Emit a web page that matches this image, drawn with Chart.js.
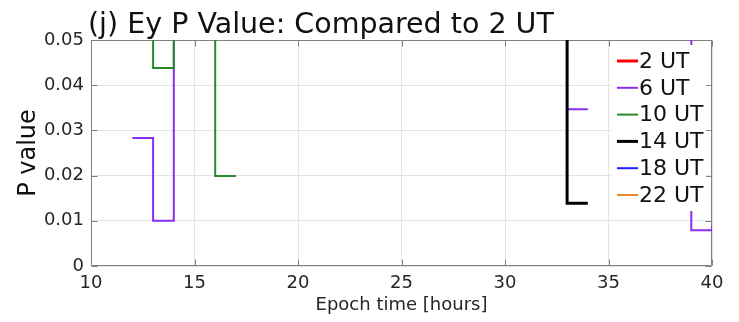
<!DOCTYPE html>
<html>
<head>
<meta charset="utf-8">
<script src="https://cdn.jsdelivr.net/npm/chart.js@4.4.1/dist/chart.umd.min.js"></script>
<style>
  html, body { margin: 0; padding: 0; background: #ffffff; }
  #wrap { width: 739px; height: 322px; }
</style>
</head>
<body>
<div id="wrap"><canvas id="c" width="739" height="322"></canvas></div>
<script>
// Epoch hours (one value per hour, stairs hold each value for one hour)
const epochHours = [10, 11, 12, 13, 14, 15, 16, 17, 18, 19, 20, 21, 22, 23, 24, 25,
                    26, 27, 28, 29, 30, 31, 32, 33, 34, 35, 36, 37, 38, 39, 40];

// P values of Ey for each start hour, compared to 2 UT (null = no value)
const pValues2UT  = [null, null, null, null, null, null, null, null, null, null, null, null, null, null, null, null,
                     null, null, null, null, null, null, null, null, null, null, null, null, null, null, null];
const pValues6UT  = [null, null, 0.0283, 0.0100, 0.21, null, null, null, null, null, null, null, null, null, null, null,
                     null, null, null, null, null, null, 0.17, 0.0347, null, null, null, null, 0.13, 0.0079, 0.0088];
const pValues10UT = [null, null, 0.15, 0.0438, 0.19, 0.11, 0.0199, null, null, null, null, null, null, null, null, null,
                     null, null, null, null, null, null, null, null, null, null, null, null, null, null, null];
const pValues14UT = [null, null, null, null, null, null, null, null, null, null, null, null, null, null, null, null,
                     null, null, null, null, null, null, 0.30, 0.0139, null, null, null, null, null, null, null];
const pValues18UT = [null, null, null, null, null, null, null, null, null, null, null, null, null, null, null, null,
                     null, null, null, null, null, null, null, null, null, null, null, null, null, null, null];
const pValues22UT = [null, null, null, null, null, null, null, null, null, null, null, null, null, null, null, null,
                     null, null, null, null, null, null, null, null, null, null, null, null, null, null, null];

const seriesLabels = ['2 UT', '6 UT', '10 UT', '14 UT', '18 UT', '22 UT'];
const xTickValues = [10, 15, 20, 25, 30, 35, 40];
const xTickLabels = ['10', '15', '20', '25', '30', '35', '40'];
const yTickValues = [0, 0.01, 0.02, 0.03, 0.04, 0.05];
const yTickLabels = ['0', '0.01', '0.02', '0.03', '0.04', '0.05'];

const seriesValues = [pValues2UT, pValues6UT, pValues10UT, pValues14UT, pValues18UT, pValues22UT];
const seriesColors = ['#ff0000', '#8a2cf2', '#2a8a2a', '#000000', '#1f1fff', '#e8892e'];
const seriesWidths = [3, 2, 2, 3, 2, 2];

// Expand hourly values into stair points: each value is held until the next hour,
// a missing value breaks the line.
function stairPoints(xs, ys) {
  const pts = [];
  for (let i = 0; i < xs.length; i++) {
    if (i > 0 && ys[i - 1] !== null) pts.push({ x: xs[i], y: ys[i - 1] });
    pts.push({ x: xs[i], y: ys[i] });
  }
  return pts;
}

const FONT = '"DejaVu Sans", "Liberation Sans", sans-serif';
const TEXT = '#262626';
const AXIS = '#808080';

// later series are drawn over earlier ones
const datasets = seriesLabels.map((lab, i) => ({
  label: lab,
  data: stairPoints(epochHours, seriesValues[i]),
  order: -i,
  borderColor: seriesColors[i],
  backgroundColor: seriesColors[i],
  borderWidth: seriesWidths[i],
  pointRadius: 0,
  pointHoverRadius: 0,
  tension: 0,
  spanGaps: false,
  fill: false,
  borderJoinStyle: 'miter',
  borderCapStyle: 'butt',
  clip: 0
}));

// Box around the plot with inward tick marks on all four sides
const boxPlugin = {
  id: 'axesBox',
  beforeDatasetsDraw(chart) {
    const { ctx, chartArea: a, scales } = chart;
    ctx.save();
    ctx.strokeStyle = AXIS;
    ctx.lineWidth = 1;
    const L = Math.round(a.left) + 0.5, R = Math.round(a.right) - 0.5;
    const T = Math.round(a.top) + 0.5, B = Math.round(a.bottom) - 0.5;
    ctx.beginPath();
    ctx.rect(L, T, R - L, B - T);
    const tl = 6;
    xTickValues.forEach(v => {
      const px = Math.round(scales.x.getPixelForValue(v)) + 0.5;
      ctx.moveTo(px, B); ctx.lineTo(px, B - tl);
      ctx.moveTo(px, T); ctx.lineTo(px, T + tl);
    });
    yTickValues.forEach(v => {
      const py = Math.round(scales.y.getPixelForValue(v)) + 0.5;
      ctx.moveTo(L, py); ctx.lineTo(L + tl, py);
      ctx.moveTo(R, py); ctx.lineTo(R - tl, py);
    });
    ctx.stroke();
    ctx.restore();
  }
};

// Legend drawn inside the plot, top right, on a white box
const legendPlugin = {
  id: 'insideLegend',
  afterDatasetsDraw(chart) {
    const { ctx, chartArea: a } = chart;
    const x0 = a.right - 100, y0 = a.top + 5, w = 94, h = 166, rowH = 26.8;
    ctx.save();
    ctx.fillStyle = '#ffffff';
    ctx.fillRect(x0, y0, w, h);
    ctx.font = '22px ' + FONT;
    ctx.textBaseline = 'middle';
    ctx.textAlign = 'left';
    chart.data.datasets.forEach((ds, i) => {
      const y = y0 + 16 + i * rowH;
      ctx.strokeStyle = ds.borderColor;
      ctx.lineWidth = ds.borderWidth;
      ctx.beginPath();
      ctx.moveTo(x0 + 5, y);
      ctx.lineTo(x0 + 26, y);
      ctx.stroke();
      ctx.fillStyle = '#111111';
      ctx.fillText(ds.label, x0 + 27, y + 1);
    });
    ctx.restore();
  }
};

// Panel title, aligned with the left edge of the plot
const titlePlugin = {
  id: 'panelTitle',
  afterDraw(chart) {
    const { ctx, chartArea: a } = chart;
    ctx.save();
    ctx.font = '28.5px ' + FONT;
    ctx.fillStyle = '#111111';
    ctx.textBaseline = 'alphabetic';
    ctx.textAlign = 'left';
    ctx.fillText('(j) Ey P Value: Compared to 2 UT', a.left - 3, 33);
    ctx.restore();
  }
};

new Chart(document.getElementById('c'), {
  type: 'line',
  data: { datasets },
  plugins: [boxPlugin, legendPlugin, titlePlugin],
  options: {
    responsive: false,
    animation: false,
    events: [],
    layout: { padding: { left: 0, right: 27, top: 40, bottom: 0 } },
    plugins: { legend: { display: false }, tooltip: { enabled: false }, title: { display: false } },
    scales: {
      x: {
        type: 'linear',
        min: 10, max: 40,
        afterFit(s) { s.height = 56; },
        afterBuildTicks(s) { s.ticks = xTickValues.map(v => ({ value: v })); },
        ticks: {
          callback: (v, i) => xTickLabels[i],
          font: { family: FONT, size: 18 },
          color: TEXT,
          padding: 7,
          maxRotation: 0,
          autoSkip: false
        },
        grid: { color: '#e4e4e4', lineWidth: 1, drawTicks: false },
        border: { display: false },
        title: {
          display: true,
          text: 'Epoch time [hours]',
          font: { family: FONT, size: 18 },
          color: TEXT,
          padding: { top: 0, bottom: 6 }
        }
      },
      y: {
        type: 'linear',
        min: 0, max: 0.05,
        afterFit(s) { s.width = 91; },
        afterBuildTicks(s) { s.ticks = yTickValues.map(v => ({ value: v })); },
        ticks: {
          callback: (v, i) => yTickLabels[i],
          font: { family: FONT, size: 18 },
          color: TEXT,
          padding: 7,
          autoSkip: false
        },
        grid: { color: '#e4e4e4', lineWidth: 1, drawTicks: false },
        border: { display: false },
        title: {
          display: true,
          text: 'P value',
          font: { family: FONT, size: 24 },
          color: '#111111',
          padding: { top: 14, bottom: 0 }
        }
      }
    }
  }
});
</script>
</body>
</html>
